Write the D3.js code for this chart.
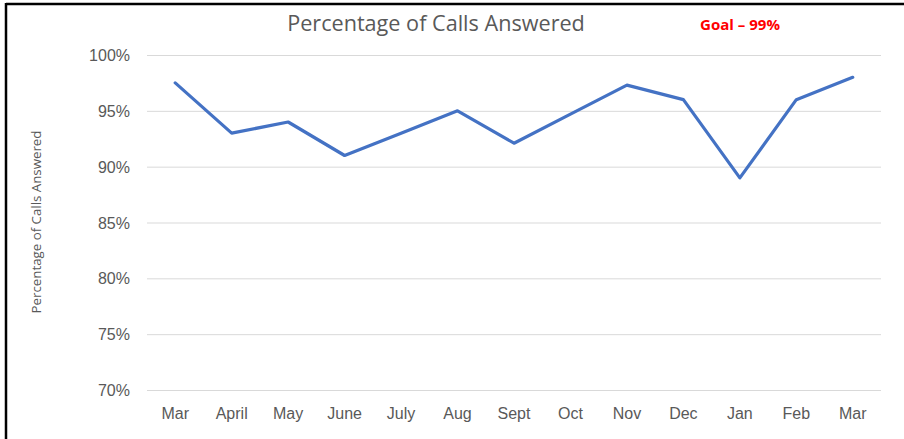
<!DOCTYPE html>
<html><head><meta charset="utf-8">
<script src="https://cdn.jsdelivr.net/npm/d3@7"></script>
<style>
body{margin:0;background:#fff;}
svg{display:block;font-family:"Open Sans","Noto Sans",sans-serif;}
</style></head>
<body><svg id="chart" width="904" height="439"></svg>
<script>
const months = ["Mar","April","May","June","July","Aug","Sept","Oct","Nov","Dec","Jan","Feb","Mar"];
const answered = [97.5, 93.0, 94.0, 91.0, 93.0, 95.0, 92.1, 94.7, 97.3, 96.0, 89.0, 96.0, 98.0];
const yTicks = [70, 75, 80, 85, 90, 95, 100];
const chartTitle = "Percentage of Calls Answered";
const goalLabel = "Goal – 99%";
const yAxisTitle = "Percentage of Calls Answered";

const svg = d3.select("#chart");
const W = 904, H = 439;
const plot = {left: 147, right: 881, top: 55, bottom: 390};

// frame
svg.append("rect").attr("x",0).attr("y",0).attr("width",W).attr("height",H).attr("fill","#fff");
svg.append("line").attr("x1",6).attr("x2",W).attr("y1",4).attr("y2",4).attr("stroke","#000").attr("stroke-width",2.5);
svg.append("line").attr("x1",6).attr("x2",6).attr("y1",3).attr("y2",H).attr("stroke","#000").attr("stroke-width",2.5);

const x = d3.scaleBand().domain(months.map((m,i)=>i)).range([plot.left, plot.right]);
const y = d3.scaleLinear().domain([70,100]).range([plot.bottom, plot.top]);

// gridlines
const yAxis = d3.axisLeft(y).tickValues(yTicks).tickSize(-(plot.right-plot.left)).tickPadding(17)
  .tickFormat(d => d + "%");
const gy = svg.append("g").attr("transform",`translate(${plot.left},0)`).call(yAxis);
gy.select(".domain").remove();
gy.selectAll(".tick line").attr("stroke","#d9d9d9").attr("stroke-width",1);
gy.selectAll(".tick text").attr("fill","#595959").attr("font-size",16).attr("dy","0.35em");

const xAxis = d3.axisBottom(x).tickSize(0).tickPadding(18).tickFormat(i => months[i]);
const gx = svg.append("g").attr("transform",`translate(0,${plot.bottom})`).call(xAxis);
gx.select(".domain").remove();
gx.selectAll(".tick text").attr("fill","#595959").attr("font-size",16);

// line
const line = d3.line().x((d,i)=>x(i)+x.bandwidth()/2).y(d=>y(d));
svg.append("path").datum(answered).attr("d",line).attr("fill","none")
  .attr("stroke","#4472C4").attr("stroke-width",3.2).attr("stroke-linejoin","round").attr("stroke-linecap","round");

// title
const t = svg.append("text").attr("x",436).attr("y",31).attr("text-anchor","middle")
  .attr("fill","#595959").attr("font-size",20).text(chartTitle);
(function(){const w=t.node().getComputedTextLength(); t.attr("font-size",20*298/w);})();

const g = svg.append("text").attr("x",740).attr("y",30).attr("text-anchor","middle")
  .attr("fill","#ff0000").attr("font-weight","bold").attr("font-size",13).text(goalLabel);
(function(){const w=g.node().getComputedTextLength(); g.attr("font-size",13*80/w);})();

const a = svg.append("text").attr("transform","translate(41,222) rotate(-90)").attr("text-anchor","middle")
  .attr("fill","#595959").attr("font-size",12).text(yAxisTitle);
(function(){const w=a.node().getComputedTextLength(); a.attr("font-size",12*183/w);})();
</script></body></html>
